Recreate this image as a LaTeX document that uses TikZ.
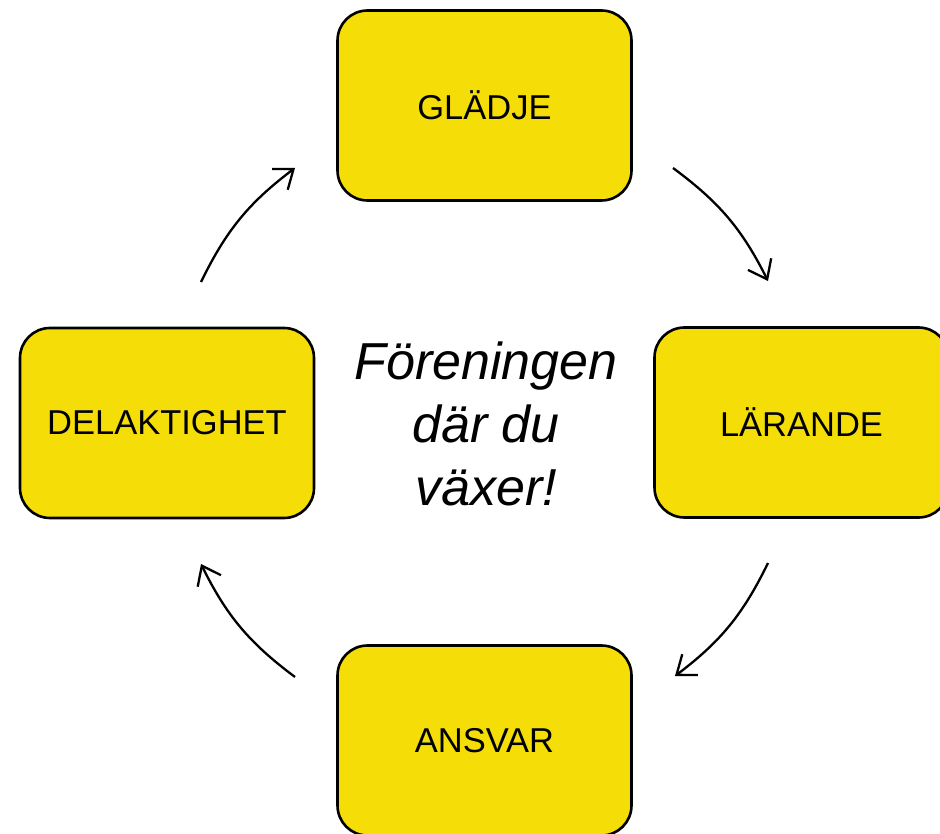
\documentclass[tikz,border=0pt]{standalone}
\usepackage{fontspec}
\setmainfont{Liberation Sans}
\usetikzlibrary{arrows.meta}
\definecolor{rutgul}{RGB}{245,222,8}

\begin{document}
\begin{tikzpicture}[x=1pt,y=-1pt]
                        \tikzstyle{ruta}=[draw, line width=2.6pt, fill=rutgul, rounded corners=30pt,
                            minimum width=294pt, minimum height=190pt, font=\fontsize{34.5}{41}\selectfont]
                        \tikzstyle{pil}=[line width=2.3pt, -{Straight Barb[length=17pt,width=26pt]}, bend left=13.5]
                        \useasboundingbox (0,0) rectangle (940,834);
                        % rutorna
                        \node[ruta] (gladje) at (484.5,105.5) {GLÄDJE};
                        \node[ruta] (larande) at (801.5,422.5) {LÄRANDE};
                        \node[ruta] (ansvar) at (484.5,740.5) {ANSVAR};
                        \node[ruta] (delaktighet) at (167,423) {DELAKTIGHET};
                        \node[align=center, font=\fontsize{52}{63}\selectfont\itshape] (mitt) at (486,424)
                            {Föreningen\\där du\\växer!};
                        % pilarna
                        \coordinate (p1a) at (673,168);
                        \coordinate (p1b) at (768,281);
                        \coordinate (p2a) at (768,563);
                        \coordinate (p2b) at (675,676);
                        \coordinate (p3a) at (295,677);
                        \coordinate (p3b) at (201,564);
                        \coordinate (p4a) at (201,282);
                        \coordinate (p4b) at (295,168);
                        \draw[pil] (p1a) to (p1b);
                        \draw[pil] (p2a) to (p2b);
                        \draw[pil] (p3a) to (p3b);
                        \draw[pil] (p4a) to (p4b);
                    \end{tikzpicture}
\end{document}
